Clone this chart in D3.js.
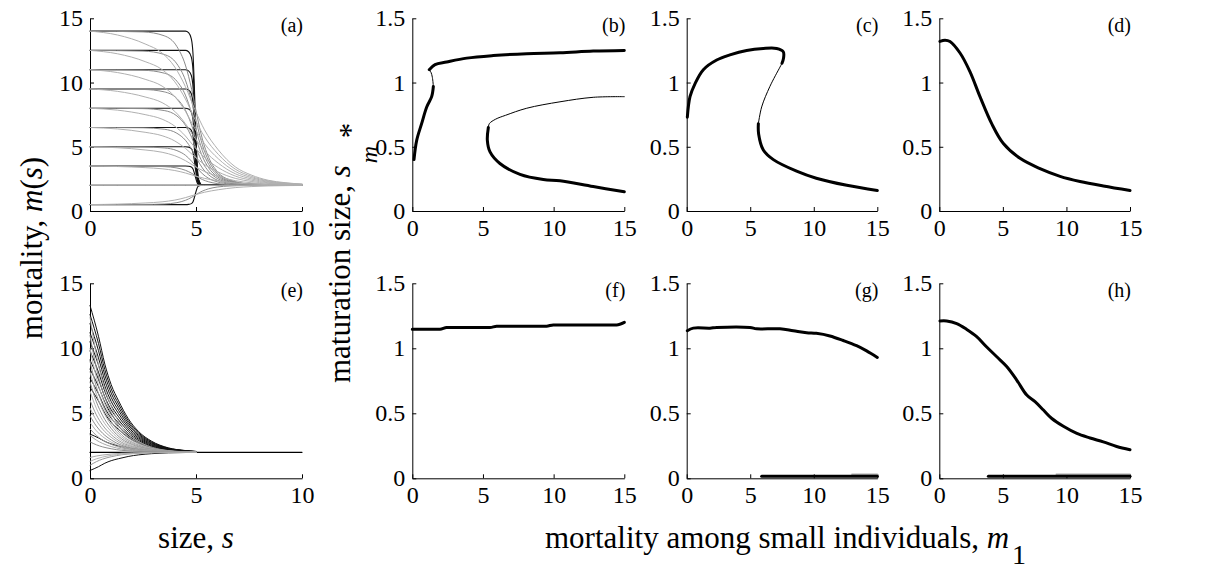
<!DOCTYPE html>
<html><head><meta charset="utf-8">
<script src="https://cdn.jsdelivr.net/npm/d3@7"></script>
<style>
body{margin:0;background:#fff}
svg{display:block}
text{font-family:"Liberation Serif","Times New Roman",serif;fill:#000}
</style>
</head><body>
<svg id="chart" width="1207" height="569"></svg>
<script>
// ---------------- DATA ----------------
const panelLetters = ["(a)","(b)","(c)","(d)","(e)","(f)","(g)","(h)"];
const sTicks = [0,5,10];
const mTicks = [0,5,10,15];
const m1Ticks = [0,5,10,15];
const smTicks = [0,0.5,1,1.5];
const smTickLabels = ["0","0.5","1","1.5"];

// panel (a): plateau levels m1 and shape profiles (fraction of m1 - m2 left at size s)
const asymptoteM2 = 2;
const aLevels = [0.5,2,3.5,5,6.5,8,9.5,11,12.5,14];
const aSteepS = [0,4.5,4.65,4.78,4.86,4.92,4.98,5.05,5.12,5.3,10];
const aSteepF = [1,1,0.99,0.95,0.85,0.65,0.4,0.15,0.04,0,0];
const aMidS = [0,2.5,3.5,4.1,4.5,4.8,5.05,5.3,5.6,6.0,6.6,7.5,10];
const aMidF = [1,0.995,0.97,0.9,0.78,0.62,0.45,0.3,0.18,0.09,0.035,0.01,0];
const aSoftS = [0,1.3,2.6,3.4,4.0,4.5,4.95,5.4,6.05,6.85,7.6,8.4,9.2,10];
const aSoftF = [1,0.975,0.917,0.858,0.767,0.64,0.49,0.36,0.23,0.12,0.067,0.033,0.017,0.008];

// panel (e): starting mortality at s=0 and decay profiles
const eBlackLevels = [13.3,12.6,11.9,11.2,10.5,9.8,9.1,8.4,7.7,7.0,3.4,0.6];
const eSlowS = [0,0.4,0.7,1.0,1.35,1.8,2.3,2.9,3.7,4.5,5];
const eSlowF = [1,0.79,0.6,0.46,0.35,0.23,0.14,0.076,0.03,0.012,0.006];
const eGrayLevels = [12.4,11.0,10.0,9.0,8.2,7.4,6.7,6.0,5.4,4.8,4.3,3.8,3.3,2.8,1.0,1.3,1.6];
const eGrayShades = ["#a8a8a8","#8c8c8c","#b4b4b4","#999","#a8a8a8","#8c8c8c","#b4b4b4","#999","#a8a8a8","#8c8c8c","#b4b4b4","#999","#a8a8a8","#8c8c8c","#999","#b4b4b4","#a8a8a8"];
const eFastS = [0,0.3,0.6,1.0,1.5,2.0,2.6,3.3,4.0,5.0];
const eFastF = [1,0.72,0.52,0.34,0.19,0.11,0.055,0.022,0.008,0];
const eFlatLine = [[0,2],[10,2]];

// panel (b)
const bUpperThickA = [[0.12,0.40],[0.31,0.55],[0.66,0.68],[1.02,0.81],[1.37,0.89],[1.49,0.97]];
const bUpperThin = [[1.49,0.97],[1.42,1.04],[1.32,1.08],[1.20,1.10]];
const bUpperThickB = [[1.20,1.10],[1.61,1.14],[2.43,1.16],[3.85,1.19],[5.73,1.21],[8.09,1.225],[10.45,1.232],[12.8,1.245],[15,1.25]];
const bLowerThin = [[15,0.89],[12.8,0.885],[10.45,0.85],[8.1,0.80],[6.6,0.745],[5.9,0.715],[5.45,0.68],[5.38,0.65]];
const bLowerThick = [[5.38,0.65],[5.31,0.55],[5.5,0.46],[6.2,0.37],[7.62,0.285],[9.27,0.245],[10.45,0.235],[12.8,0.19],[15,0.15]];

// panel (c)
const cUpperThick = [[0.05,0.73],[0.26,0.89],[0.65,0.99],[1.31,1.10],[2.36,1.175],[3.4,1.215],[4.72,1.25],[6.03,1.265],[7.08,1.265],[7.6,1.24],[7.62,1.19],[7.5,1.15]];
const cMiddleThin = [[7.5,1.15],[7.34,1.12],[6.55,0.97],[5.9,0.81],[5.64,0.68]];
const cLowerThick = [[5.64,0.68],[5.66,0.60],[6.03,0.475],[6.82,0.40],[8.65,0.31],[10.2,0.255],[12.6,0.20],[15,0.16]];

// panel (d)
const dCurve = [[0.05,1.32],[0.45,1.33],[0.84,1.32],[1.63,1.23],[2.41,1.085],[3.2,0.89],[4.12,0.68],[5.04,0.525],[6.35,0.41],[7.92,0.33],[9.5,0.27],[11.07,0.23],[12.9,0.195],[15,0.16]];

// panel (f)
const fCurve = [[0,1.146],[1.96,1.146],[2.43,1.16],[5.5,1.16],[5.97,1.17],[9.5,1.17],[9.97,1.18],[14.46,1.18],[15,1.20]];

// panel (g)
const gCurve = [[0.05,1.135],[0.52,1.155],[1.83,1.155],[2.36,1.16],[4.98,1.16],[5.5,1.15],[7.34,1.15],[8.39,1.135],[9.44,1.12],[10.2,1.115],[11.27,1.095],[12.32,1.06],[13.37,1.02],[14.16,0.98],[15,0.93]];
const gBottomThick = [[5.9,0.015],[15,0.015]];
const gBottomGray = [[13.0,0.032],[15,0.032]];

// panel (h)
const hCurve = [[0.05,1.21],[0.58,1.21],[1.37,1.19],[2.16,1.145],[2.94,1.09],[3.73,1.01],[4.52,0.935],[5.3,0.86],[6.09,0.756],[6.88,0.64],[7.53,0.59],[8.19,0.525],[8.85,0.46],[9.76,0.40],[10.82,0.345],[11.86,0.31],[12.9,0.28],[13.95,0.245],[15,0.22]];
const hBottomThick = [[3.86,0.015],[15,0.015]];
const hBottomGray = [[9.2,0.032],[15,0.032]];

// ---------------- LAYOUT ----------------
const svg = d3.select("#chart");
const cols = [[90,302],[412.3,624.3],[686.7,877.3],[939.3,1130]];
const rows = [[18.3,211],[283.3,478.3]];
const FONT = '"Liberation Serif","Times New Roman",serif';

function panel(col,row,xDom,yDom,xT,yT,yLab,letter){
  const [x0,x1]=cols[col],[y0,y1]=rows[row];
  const x=d3.scaleLinear().domain(xDom).range([x0,x1]);
  const y=d3.scaleLinear().domain(yDom).range([y1,y0]);
  const g=svg.append("g");
  const xa=g.append("g").attr("transform",`translate(0,${y1})`)
    .call(d3.axisBottom(x).tickValues(xT).tickSizeInner(-4).tickSizeOuter(0).tickPadding(8).tickFormat(d3.format("d")));
  const ya=g.append("g").attr("transform",`translate(${x0},0)`)
    .call(d3.axisLeft(y).tickValues(yT).tickSizeInner(-4).tickSizeOuter(0).tickPadding(7).tickFormat((d,i)=>yLab[i]));
  [xa,ya].forEach(a=>{
    a.attr("font-family",FONT).attr("font-size",24);
    a.selectAll("path,line").attr("stroke","#000").attr("stroke-width",1);
    a.selectAll("text").attr("fill","#000");
  });
  g.append("text").attr("x",x1+1).attr("y",y0+14).attr("text-anchor","end")
    .attr("font-size",20).text(letter);
  const lines=g.append("g");
  return {x,y,g:lines};
}
function draw(p,data,w,color,curve){
  p.g.append("path").datum(data)
   .attr("d",d3.line().x(d=>p.x(d[0])).y(d=>p.y(d[1])).curve(curve||d3.curveCatmullRom.alpha(0.5)))
   .attr("fill","none").attr("stroke",color).attr("stroke-width",w)
   .attr("stroke-linejoin","round").attr("stroke-linecap","round");
}
const fam=(S,F,L,base)=>S.map((s,i)=>[s,base+(L-base)*F[i]]);

// (a)
const pa=panel(0,0,[0,10],[0,15],sTicks,mTicks,mTicks.map(String),panelLetters[0]);
aLevels.forEach(L=>draw(pa,fam(aSteepS,aSteepF,L,asymptoteM2),1.1,"#111",d3.curveMonotoneX));
aLevels.forEach(L=>draw(pa,fam(aMidS,aMidF,L,asymptoteM2),1,"#8a8a8a",d3.curveMonotoneX));
aLevels.forEach(L=>draw(pa,fam(aSoftS,aSoftF,L,asymptoteM2),1,"#b0b0b0",d3.curveMonotoneX));

// (e)
const pe=panel(0,1,[0,10],[0,15],sTicks,mTicks,mTicks.map(String),panelLetters[4]);
draw(pe,eFlatLine,1.2,"#000",d3.curveLinear);
eBlackLevels.forEach(L=>draw(pe,fam(eSlowS,eSlowF,L,asymptoteM2),1,"#111",d3.curveMonotoneX));
eGrayLevels.forEach((L,i)=>draw(pe,fam(eFastS,eFastF,L,asymptoteM2),1,eGrayShades[i],d3.curveMonotoneX));

// (b)
const pb=panel(1,0,[0,15],[0,1.5],m1Ticks,smTicks,smTickLabels,panelLetters[1]);
draw(pb,bUpperThickA,3,"#000");
draw(pb,bUpperThin,1,"#000");
draw(pb,bUpperThickB,3,"#000");
draw(pb,bLowerThin,1,"#000");
draw(pb,bLowerThick,3,"#000");

// (c)
const pc=panel(2,0,[0,15],[0,1.5],m1Ticks,smTicks,smTickLabels,panelLetters[2]);
draw(pc,cUpperThick,3,"#000");
draw(pc,cMiddleThin,1,"#000");
draw(pc,cLowerThick,3,"#000");

// (d)
const pd=panel(3,0,[0,15],[0,1.5],m1Ticks,smTicks,smTickLabels,panelLetters[3]);
draw(pd,dCurve,3,"#000");

// (f)
const pf=panel(1,1,[0,15],[0,1.5],m1Ticks,smTicks,smTickLabels,panelLetters[5]);
draw(pf,fCurve,3,"#000",d3.curveMonotoneX);

// (g)
const pg=panel(2,1,[0,15],[0,1.5],m1Ticks,smTicks,smTickLabels,panelLetters[6]);
draw(pg,gCurve,3,"#000");
draw(pg,gBottomGray,1.5,"#aaa",d3.curveLinear);
draw(pg,gBottomThick,3,"#000",d3.curveLinear);

// (h)
const ph=panel(3,1,[0,15],[0,1.5],m1Ticks,smTicks,smTickLabels,panelLetters[7]);
draw(ph,hCurve,3,"#000");
draw(ph,hBottomGray,1.5,"#aaa",d3.curveLinear);
draw(ph,hBottomThick,3,"#000",d3.curveLinear);

// axis labels
const t1=svg.append("text").attr("transform","translate(42,248) rotate(-90)")
  .attr("text-anchor","middle").attr("font-size",31);
t1.append("tspan").text("mortality, ");
t1.append("tspan").attr("font-style","italic").text("m");
t1.append("tspan").text("(");
t1.append("tspan").attr("font-style","italic").text("s");
t1.append("tspan").text(")");

const t2=svg.append("text").attr("x",196).attr("y",548).attr("text-anchor","middle").attr("font-size",31);
t2.append("tspan").text("size, ");
t2.append("tspan").attr("font-style","italic").text("s");

// rotated y label for panels b-h: main part, then subscript m and star placed after it
const yStart=383, yBase=350;
const t3=svg.append("text").attr("transform",`translate(${yBase},${yStart}) rotate(-90)`)
  .attr("text-anchor","start").attr("font-size",31);
t3.append("tspan").text("maturation size, ");
t3.append("tspan").attr("font-style","italic").text("s");
const len3=t3.node().getComputedTextLength();
svg.append("text").attr("transform",`translate(${yBase+27},${yStart-len3-2}) rotate(-90)`)
  .attr("font-size",24).attr("font-style","italic").text("m");
svg.append("text").attr("transform",`translate(${yBase+11},${yStart-len3-27}) rotate(-90)`)
  .attr("font-size",31).text("*");

const t4=svg.append("text").attr("x",545).attr("y",548).attr("text-anchor","start").attr("font-size",31);
t4.append("tspan").text("mortality among small individuals, ");
t4.append("tspan").attr("font-style","italic").text("m");
t4.append("tspan").attr("font-size",28).attr("dy",16).attr("dx",3).text("1");
</script>
</body></html>
